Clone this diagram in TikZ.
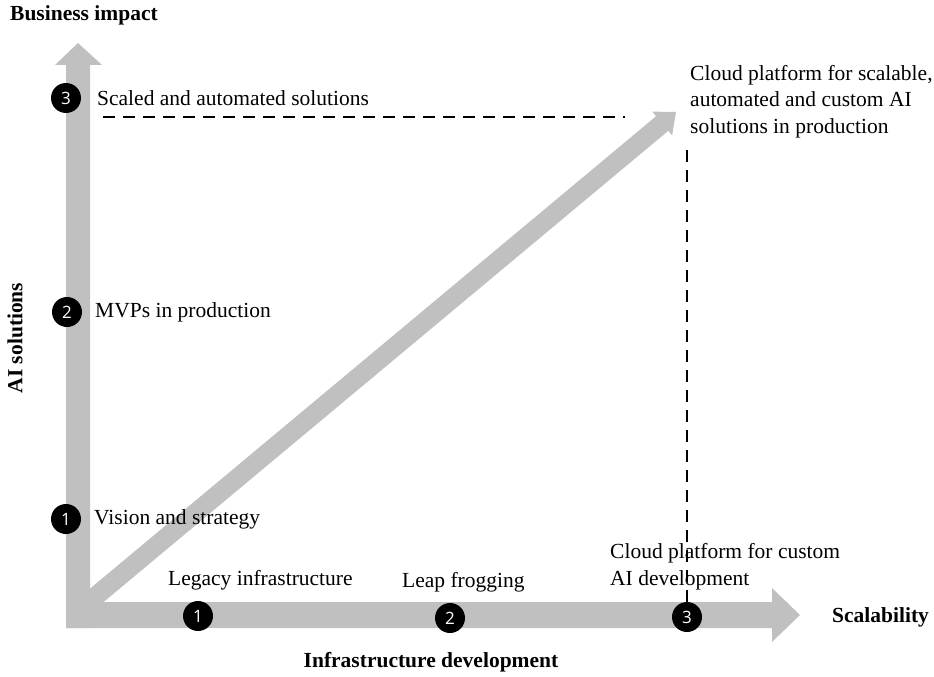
\documentclass[tikz,border=0pt]{standalone}
\usepackage{fontspec}
\setmainfont{Liberation Serif}
\newfontfamily\numfont{Open Sans}
\usetikzlibrary{calc}
\definecolor{axisgray}{RGB}{192,192,192}
\begin{document}
\begin{tikzpicture}[x=1pt,y=-1pt,
  lbl/.style={anchor=west, inner sep=0pt, align=left,
    font=\fontsize{21.5}{26.5}\selectfont},
  axislbl/.style={inner sep=0pt, font=\fontsize{21.5}{26.5}\selectfont\bfseries},
  badge/.style={circle, fill=black, minimum size=30pt, inner sep=0pt,
    text=white, font=\numfont\fontsize{17}{17}\selectfont},
  guide/.style={line width=2.6pt, dash pattern=on 12pt off 8pt},
  band/.style={fill=axisgray}]
\useasboundingbox (0,0) rectangle (934,677);

% vertical axis: AI solutions
\fill[band] (66,628) -- (66,65) -- (55,65) -- (78,43) -- (102,65) -- (90,65) -- (90,628) -- cycle;
% horizontal axis: infrastructure development
\fill[band] (66,602) -- (772,602) -- (772,588) -- (800,615) -- (772,642) -- (772,628) -- (66,628) -- cycle;

% diagonal growth arrow
\coordinate (ds) at (78,611);
\coordinate (dt) at (676,112);
\coordinate (dh) at ($(dt)!18pt!(ds)$);
\fill[band] ($(ds)!9.5pt!90:(dt)$) -- ($(dh)!9.5pt!90:(dt)$) -- ($(dh)!15.5pt!90:(dt)$)
  -- (dt) -- ($(dh)!15.5pt!-90:(dt)$) -- ($(dh)!9.5pt!-90:(dt)$) -- ($(ds)!9.5pt!-90:(dt)$) -- cycle;

% axis titles
\node[axislbl, anchor=west] (bi) at (10,15) {Business impact};
\node[axislbl, rotate=90] (ais) at (15,338) {AI solutions};
\node[axislbl] (infd) at (431,662) {Infrastructure development};
\node[axislbl, anchor=west] (scal) at (832,617) {Scalability};

% stages on the vertical axis
\node[badge] (v3) at (66,98) {3};
\node[badge] (v2) at (67,312) {2};
\node[badge] (v1) at (66,519) {1};
\node[lbl] (t3) at (97,98) {Scaled and automated solutions};
\node[lbl] (t2) at (95,312) {MVPs in production};
\node[lbl] (t1) at (94,519) {Vision and strategy};

% stages on the horizontal axis
\node[badge] (h1) at (198,616) {1};
\node[badge] (h2) at (450,618) {2};
\node[badge] (h3) at (687,617) {3};
\node[lbl] (l1) at (168,580) {Legacy infrastructure};
\node[lbl] (l2) at (402,582) {Leap frogging};
\node[lbl] (l3) at (610,566.5) {Cloud platform for custom\\AI development};

% target state
\node[lbl] (goal) at (690,101.5) {Cloud platform for scalable,\\automated and custom AI\\solutions in production};

% guide lines
\coordinate (gh0) at (103,117);
\coordinate (gh1) at (625,117);
\coordinate (gv0) at (687,150);
\draw[guide] (gh0) -- (gh1);
\draw[guide] (gv0) -- (h3.north);
\end{tikzpicture}
\end{document}
